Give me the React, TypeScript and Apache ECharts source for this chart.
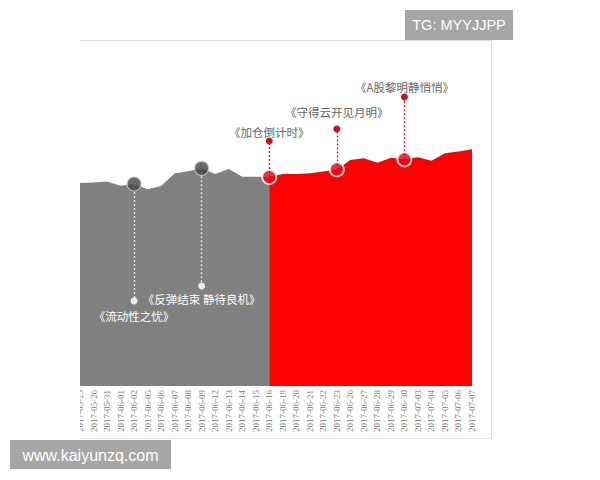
import React, { useEffect, useRef } from "react";
import * as echarts from "echarts";

const categories = [
  "2017-05-25", "2017-05-26", "2017-05-31", "2017-06-01", "2017-06-02", "2017-06-05",
  "2017-06-06", "2017-06-07", "2017-06-08", "2017-06-09", "2017-06-12", "2017-06-13",
  "2017-06-14", "2017-06-15", "2017-06-16", "2017-06-19", "2017-06-20", "2017-06-21",
  "2017-06-22", "2017-06-23", "2017-06-26", "2017-06-27", "2017-06-28", "2017-06-29",
  "2017-06-30", "2017-07-03", "2017-07-04", "2017-07-05", "2017-07-06", "2017-07-07",
];
const values = [
  58.7, 58.8, 59.1, 57.9, 58.4, 56.9, 57.8, 61.4, 62.1, 62.9, 61.3, 62.7, 60.5, 60.5, 60.4,
  61.3, 61.3, 61.5, 62.0, 62.6, 65.3, 65.8, 64.5, 66.0, 65.5, 66.1, 65.1, 67.3, 67.8, 68.4,
];
const splitIndex = 14;
const noteIndex = [4, 9, 14, 19, 24];
const noteTitles = ["《流动性之忧》", "《反弹结束 静待良机》", "《加仓倒计时》", "《守得云开见月明》", "《A股黎明静悄悄》"];
const notePinValues = [24.6, 28.9, 70.8, 74.3, 83.5];
const noteLabelGap = [9, 7, 3, 11, 4];

const GRAY = "#808080";
const RED = "#ff0000";
const CJK = '"Noto Sans CJK SC", "Noto Sans", sans-serif';

export default function App() {
  const ref = useRef<HTMLDivElement>(null);
  useEffect(() => {
    if (!ref.current) return;
    const chart = echarts.init(ref.current, null, { renderer: "svg" });
    const grayData = values.map((v, i) => (i <= splitIndex ? v : "-"));
    const redData = values.map((v, i) => (i >= splitIndex ? v : "-"));
    const dotData = noteIndex.map((idx) => {
      const onRed = idx >= splitIndex;
      return {
        value: [idx, values[idx]],
        itemStyle: onRed
          ? { color: "#e8000f", borderColor: "#ffffff", borderWidth: 2 }
          : { color: "#454545", borderColor: "#cfcfcf", borderWidth: 1.2 },
      };
    });
    const lineData = noteIndex.map((idx, k) => {
      const onRed = idx >= splitIndex;
      const label = {
        show: true,
        position: "end",
        formatter: noteTitles[k],
        color: onRed ? "#666666" : "#ffffff",
        fontSize: 11.5,
        fontFamily: CJK,
        distance: noteLabelGap[k],
      };
      const lineStyle = {
        color: onRed ? "#c8101e" : "#ececec",
        type: [2, 2],
        width: 1.3,
      };
      return [
        { coord: [idx, values[idx]], label, lineStyle },
        { coord: [idx, notePinValues[k]], label, lineStyle },
      ];
    });
    chart.setOption({
      animation: false,
      grid: { left: 80, right: 128, top: 40, bottom: 94 },
      xAxis: {
        type: "category",
        data: categories,
        boundaryGap: false,
        axisLine: { show: false },
        axisTick: { show: false },
        splitLine: { show: false },
        axisLabel: {
          rotate: 90,
          interval: 0,
          fontSize: 9,
          color: "#808080",
          margin: 4,
          fontFamily: '"Liberation Serif", serif',
        },
      },
      yAxis: { type: "value", min: 0, max: 100, show: false },
      series: [
        {
          type: "line",
          data: grayData,
          symbol: "none",
          lineStyle: { width: 0 },
          areaStyle: { color: GRAY, opacity: 1 },
          z: 2,
        },
        {
          type: "line",
          data: redData,
          symbol: "none",
          lineStyle: { width: 0 },
          areaStyle: { color: RED, opacity: 1 },
          z: 2,
        },
        {
          type: "scatter",
          data: dotData,
          symbolSize: 14,
          z: 6,
          silent: true,
          markLine: {
            silent: true,
            z: 4,
            symbol: ["none", "circle"],
            symbolSize: 7,
            data: lineData,
          },
        },
      ],
      graphic: [
        { type: "rect", shape: { x: 0, y: 380, width: 80, height: 60 }, style: { fill: "#ffffff" }, z: 100 },
        { type: "line", shape: { x1: 80, y1: 40.5, x2: 491.5, y2: 40.5 }, style: { stroke: "#dddddd", lineWidth: 1 }, z: 100 },
        { type: "line", shape: { x1: 491.5, y1: 40, x2: 491.5, y2: 438.5 }, style: { stroke: "#dddddd", lineWidth: 1 }, z: 100 },
        { type: "line", shape: { x1: 80, y1: 438.5, x2: 491.5, y2: 438.5 }, style: { stroke: "#e4e4e4", lineWidth: 1 }, z: 100 },
        { type: "rect", shape: { x: 405, y: 10, width: 108, height: 30 }, style: { fill: "#a6a6a6" }, z: 101 },
        {
          type: "text",
          x: 459,
          y: 25,
          style: { text: "TG: MYYJJPP", fill: "#ffffff", fontSize: 14.5, fontFamily: '"Liberation Sans", Arial, sans-serif', align: "center", verticalAlign: "middle" },
          z: 102,
        },
        { type: "rect", shape: { x: 10, y: 440, width: 161, height: 29 }, style: { fill: "#a6a6a6" }, z: 101 },
        {
          type: "text",
          x: 90.5,
          y: 455,
          style: { text: "www.kaiyunzq.com", fill: "#ffffff", fontSize: 16, fontFamily: '"Liberation Sans", Arial, sans-serif', align: "center", verticalAlign: "middle" },
          z: 102,
        },
      ],
    });
    return () => chart.dispose();
  }, []);
  return (
    <div
      ref={ref}
      style={{ position: "absolute", left: 0, top: 0, width: 600, height: 480, background: "#ffffff" }}
    />
  );
}
